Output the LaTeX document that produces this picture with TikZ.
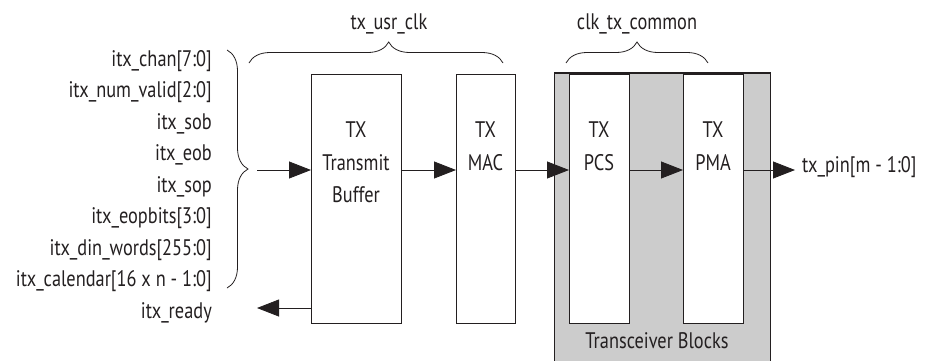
\documentclass[tikz,border=0pt]{standalone}
\usepackage{fontspec}
\setmainfont[FakeStretch=0.815]{PT Sans}
\usetikzlibrary{arrows.meta,decorations.pathreplacing}
\definecolor{ink}{HTML}{231F20}
\definecolor{panel}{HTML}{CCCCCC}
\begin{document}
\begin{tikzpicture}[x=1pt,y=-1pt,
  every node/.style={font=\fontsize{22.5}{26}\selectfont, text=ink},
  blockbox/.style={draw=ink, line width=0.8pt, fill=white, inner sep=0pt, anchor=north west},
  sig/.style={draw=ink, line width=0.8pt, -{Triangle[length=22pt,width=17pt]}},
  curly/.style={draw=ink, line width=0.8pt, decorate, decoration={brace, amplitude=21pt}},
  lbl/.style={anchor=base east, inner sep=0pt},
  boxtext/.style={anchor=north, inner sep=0pt, align=center, font=\fontsize{22.5}{32.5}\selectfont}
]
\useasboundingbox (0,0) rectangle (928,360);
\begin{scope}
\clip (0,0) rectangle (928,360);
\node[draw=ink, fill=panel, line width=0.8pt, inner sep=0pt, anchor=north west,
      minimum width=216pt, minimum height=300pt] (tb) at (554,73) {};
\end{scope}
\draw[ink, line width=1.6pt] (tb.north west) -- (tb.north east);

\node[blockbox, minimum width=90pt, minimum height=249pt] (buf) at (311,74) {};
\node[blockbox, minimum width=59pt, minimum height=249pt] (mac) at (456,74) {};
\node[blockbox, minimum width=60pt, minimum height=249pt] (pcs) at (569,74) {};
\node[blockbox, minimum width=60pt, minimum height=249pt] (pma) at (683,74) {};

\node[boxtext] (buft) at (356,122) {TX\\Transmit\\Buffer};
\node[boxtext] (mact) at (485.5,122) {TX\\MAC};
\node[boxtext] (pcst) at (599,122) {TX\\PCS};
\node[boxtext] (pmat) at (713,122) {TX\\PMA};

\node[lbl] (l1) at (212,66.0) {itx\_chan[7:0]};
\node[lbl] (l2) at (212,97.5) {itx\_num\_valid[2:0]};
\node[lbl] (l3) at (212,129.0) {itx\_sob};
\node[lbl] (l4) at (212,160.5) {itx\_eob};
\node[lbl] (l5) at (212,192.0) {itx\_sop};
\node[lbl] (l6) at (212,223.5) {itx\_eopbits[3:0]};
\node[lbl] (l7) at (212,255.0) {itx\_din\_words[255:0]};
\node[lbl] (l8) at (212,286.5) {itx\_calendar[16 x n - 1:0]};
\node[lbl] (l9) at (212,318.0) {itx\_ready};

\node[anchor=base, inner sep=0pt] (usr) at (389,29) {tx\_usr\_clk};
\node[anchor=base, inner sep=0pt] (common) at (637,29) {clk\_tx\_common};
\node[anchor=base, inner sep=0pt] (tbl) at (657,348) {Transceiver Blocks};

\coordinate (inpt) at (257,170);
\draw[sig] (inpt) -- (inpt -| buf.west);
\draw[sig] (buf.east |- inpt) -- (mac.west |- inpt);
\draw[sig] (mac.east |- inpt) -- (pcs.west |- inpt);
\draw[sig] (pcs.east |- inpt) -- (pma.west |- inpt);
\coordinate (outp) at (795,170);
\draw[sig] (pma.east |- inpt) -- (outp);
\node[anchor=base west, inner sep=0pt] (txpin) at (802,172) {tx\_pin[m - 1:0]};
\coordinate (rdy) at (257,308);
\draw[sig] (rdy -| buf.west) -- (rdy);

\coordinate (bl1) at (227,50);
\coordinate (bl2) at (227,288);
\draw[curly] (bl1) -- (bl2);
\coordinate (bu1) at (249,63);
\coordinate (bu2) at (503,63);
\draw[curly, decoration={brace, amplitude=21pt, aspect=0.55}] (bu1) -- (bu2);
\coordinate (bc1) at (566,63);
\coordinate (bc2) at (708,63);
\draw[curly] (bc1) -- (bc2);
\end{tikzpicture}
\end{document}
